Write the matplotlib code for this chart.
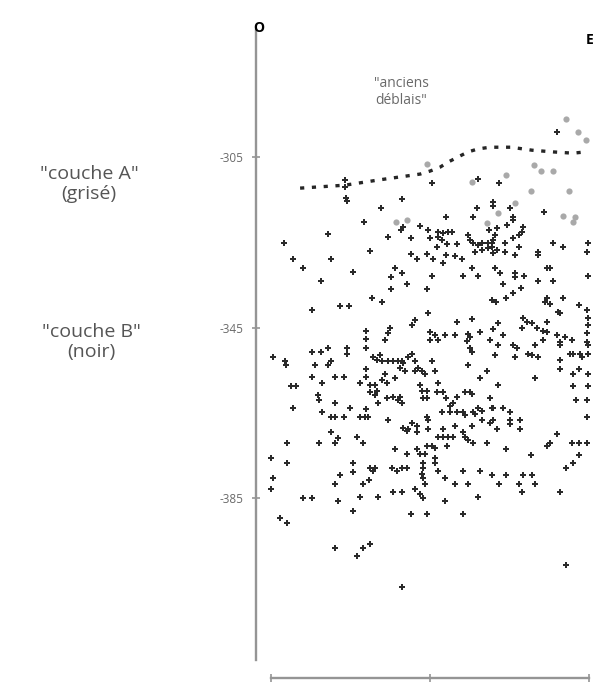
import numpy as np
from matplotlib import pyplot as plt

plt.rcParams['font.family'] = ['Open Sans', 'DejaVu Sans']
plt.rcParams['lines.scale_dashes'] = False

# x : distance along the section (cm), y : depth (cm)
couche_b = [
    (24.7, -310.4), (24.7, -312.1), (25, -314.6), (25.3, -315.3), (31, -320.3), (19, -323.1),
    (4.3, -325.2), (33, -327.1), (7.3, -329.0), (20, -329.0), (10.7, -331.1), (27.3, -332.0),
    (16.7, -334.1), (33.7, -338.1), (13.7, -341.0), (23, -340.0), (26, -340.0), (31.7, -345.9),
    (31.7, -347.8),
    (53.7, -311.1), (69, -310.2), (43.7, -314.9), (36.7, -317.0), (68.7, -317.0), (74, -315.6),
    (44, -321.5), (43.3, -322.2), (58.3, -319.1), (67.3, -319.1), (72.7, -322.2), (49.7, -321.2),
    (52.3, -322.2), (55.7, -322.6), (57.3, -322.9), (59, -322.6), (60.3, -322.6), (55.7, -323.8),
    (39, -323.8), (46.7, -324.0), (53, -324.0), (57, -324.5), (58.7, -325.4), (62, -325.4),
    (55.3, -326.2), (65.7, -323.3), (66.3, -324.5), (67.3, -325.2), (69, -325.7), (70.3, -325.2),
    (72.3, -325.2), (73.7, -325.2), (68, -327.3), (70.3, -326.9), (72.3, -326.4), (46.7, -327.8),
    (48.7, -329.0), (52, -327.8), (54, -329.0), (58.3, -328.0), (61.3, -328.3), (63.7, -329.0),
    (57.3, -329.9), (41.3, -331.1), (43.7, -332.3), (40, -333.2), (45.3, -334.8), (53.7, -333.0),
    (64, -333.0), (67, -331.1), (69, -333.0), (52, -336.0), (40, -336.0), (37, -339.1),
    (52.3, -341.7), (48, -343.3), (47, -344.5), (62, -343.8), (67, -343.1), (39.7, -345.2),
    (39, -346.4), (73.7, -338.6),
    (95.3, -299.1), (76, -311.1), (74, -316.5), (79.7, -317.0), (91, -317.9), (80.7, -319.1),
    (80.7, -319.8), (78.7, -321.0), (75.3, -321.7), (84, -321.5), (83.7, -322.6), (82.7, -323.3),
    (74.7, -323.3), (74, -324.5), (73.7, -326.2), (80.7, -324.0), (78, -325.2), (82.7, -326.2),
    (78, -327.3), (81.3, -328.0), (75.3, -326.9), (74, -327.6), (94, -325.2), (97.3, -326.2),
    (105.7, -325.2), (105.3, -327.3), (89, -327.3), (89, -328.0), (92, -331.1), (93, -331.1),
    (74.7, -331.1), (76.3, -332.3), (81.3, -332.3), (81.3, -333.2), (84.3, -333.0), (89, -334.1),
    (94, -334.1), (105.7, -333.0), (77.3, -334.8), (83.3, -335.8), (80.7, -337.0), (78.3, -338.1),
    (75, -339.1), (92, -338.1), (91.3, -339.1), (93, -339.5), (97.3, -338.1), (95.7, -341.4),
    (96.3, -341.7), (102.7, -339.8), (105.3, -341.0), (105.7, -342.8), (105.7, -344.5), (84, -342.8),
    (85.3, -343.8), (87, -344.0), (88.7, -345.2), (90.7, -345.7), (92, -346.1), (75.7, -344.0),
    (77.3, -346.8), (95.3, -346.8), (98, -347.3), (105.3, -346.4), (83.7, -345.0), (74, -345.4),
    (92, -343.8),
    (31.7, -349.9), (34, -352.0), (35.3, -352.7), (0.7, -351.8), (4.7, -352.9), (5, -353.9),
    (13.7, -350.8), (16.7, -350.8), (19, -349.7), (25.3, -349.9), (25.3, -351.1), (20, -352.9),
    (19, -353.9), (14.7, -353.9), (6.7, -358.8), (8.3, -358.8), (13.7, -356.7), (17, -357.9),
    (21.3, -356.7), (24.3, -356.7), (29.7, -357.9), (31.7, -356.7), (31.7, -354.8), (33, -358.6),
    (34.7, -358.6), (33, -360.2), (34.7, -360.9), (35.7, -362.6), (15.7, -360.9), (16, -361.9),
    (7.3, -363.8), (21.3, -362.8), (26.3, -363.8), (17, -364.9), (20, -366.1), (21.3, -366.1),
    (24.3, -366.1), (29.7, -366.1), (31.3, -365.9), (32.3, -366.1), (31.7, -364.0), (20, -369.6),
    (22.3, -371.0), (21.3, -372.0), (28.7, -370.8), (30.7, -372.0), (5.3, -372.0), (16, -372.0),
    (0, -375.5), (5.3, -376.9), (27.3, -376.9), (27.3, -378.8), (33, -377.9), (34.7, -377.9),
    (34, -378.6), (23, -379.7), (0.7, -380.4), (0, -382.8), (21.3, -381.6), (30.7, -381.6),
    (32.7, -380.7), (10.7, -384.9), (13.7, -384.9), (22.3, -385.8), (29.7, -384.7), (35.7, -384.7),
    (27.3, -388.0), (3, -389.8), (5.3, -390.8), (21.3, -396.7), (28.7, -398.5), (30.7, -396.7),
    (33, -395.7),
    (38, -348.0), (53, -346.1), (54.7, -346.8), (58, -346.8), (61.3, -346.8), (65.7, -346.6),
    (66.3, -347.3), (69.7, -346.1), (73, -348.0), (65.3, -348.2), (66.3, -349.9), (67, -350.8),
    (55.7, -348.0), (53, -348.0), (36.3, -351.5), (37, -352.9), (39, -352.9), (40.7, -352.9),
    (42.3, -352.9), (43.7, -352.9), (44, -353.4), (43, -354.6), (44.7, -355.1), (45.7, -352.0),
    (47, -351.1), (48, -352.9), (53.7, -352.9), (48, -355.3), (49, -354.6), (50.3, -355.1),
    (51.3, -355.8), (54.7, -355.1), (65.7, -353.9), (72, -355.1), (69.7, -356.9), (41.3, -356.9),
    (38, -355.8), (37, -357.4), (38.7, -358.1), (35.3, -359.8), (55.7, -357.9), (49.7, -358.6),
    (50.3, -359.8), (52, -359.8), (55.3, -360.2), (57.3, -360.2), (64.7, -360.2), (66.3, -360.2),
    (67, -360.5), (62, -361.2), (38.7, -361.6), (40.7, -361.2), (43, -361.2), (42.3, -362.1),
    (50.7, -361.6), (52, -361.6), (58.3, -361.6), (60.7, -362.8), (59.7, -363.5), (43.7, -362.8),
    (73, -361.6), (69, -363.8), (70.3, -364.5), (57, -364.9), (62, -364.9), (64, -364.9),
    (64.7, -365.6), (67.3, -364.9), (68, -365.2), (59.7, -364.9), (73.7, -363.8), (52, -365.9),
    (52.3, -366.8), (70.3, -366.6), (39, -366.8), (61.3, -368.0), (47, -367.5), (48.7, -368.0),
    (45.7, -368.7), (45.3, -369.2), (48.7, -369.6), (44, -368.5), (52.3, -368.7), (57.3, -368.7),
    (67, -368.0), (73, -367.5), (55.7, -370.8), (57.3, -370.8), (59, -370.8), (60.7, -370.8),
    (64, -369.6), (64.7, -370.8), (65.7, -371.5), (67.3, -372.0), (72, -372.0), (58.7, -372.9),
    (52, -372.7), (53.7, -372.7), (54.7, -373.2), (41.3, -373.4), (48.7, -373.4), (49.7, -374.6),
    (51.3, -374.6), (45.3, -374.6), (54.7, -375.5), (50.7, -376.7), (54.7, -376.9), (40.3, -377.9),
    (42, -378.6), (43.7, -377.9), (45.3, -377.9), (55.7, -378.6), (50.7, -377.9), (64, -378.6),
    (69.7, -378.6), (73.7, -379.7), (50.3, -379.3), (50.7, -380.4), (51.3, -381.6), (58, -380.4),
    (61.3, -381.6), (65.7, -381.6), (48, -382.8), (49.7, -384.0), (50.7, -384.9), (40.7, -383.7),
    (43.7, -383.7), (58, -385.8), (69, -384.7), (46.7, -388.7), (52, -388.7), (64, -388.7),
    (43.7, -405.8),
    (75.7, -349.2), (80.7, -349.2), (82, -349.7), (88, -349.2), (90.7, -348.0), (96.3, -348.5),
    (96.3, -349.2), (100.3, -348.0), (105.3, -348.5), (105.7, -349.2), (99.7, -351.1), (100.7, -351.1),
    (103, -351.3), (103.7, -352.0), (105.7, -351.1), (74.7, -351.5), (81.3, -351.8), (85.7, -351.1),
    (87, -351.5), (89, -351.8), (96.3, -352.7), (96.3, -354.8), (100.7, -355.8), (102.7, -354.8),
    (105.7, -355.8), (88, -356.9), (75.7, -358.6), (100.7, -358.8), (105.7, -358.8), (101.7, -361.9),
    (105.3, -361.9), (74, -363.8), (77.3, -363.8), (79.7, -364.9), (74, -366.8), (79.7, -366.8),
    (79.7, -367.7), (83, -366.8), (75.3, -368.7), (83, -368.7), (105.3, -366.1), (95.3, -369.9),
    (93, -372.0), (92, -372.7), (100.3, -372.0), (102.7, -372.0), (105.3, -372.0), (78.3, -373.6),
    (86.7, -374.8), (102.7, -374.8), (100.7, -376.9), (98.3, -377.9), (78.3, -379.7), (84, -379.7),
    (87, -379.7), (76, -381.6), (82.7, -381.6), (88, -381.6), (83.7, -383.7), (96.3, -383.7),
    (98.3, -400.6),
]

couche_a = [
    (98.3, -296.1), (102.3, -299.1), (105, -301.0), (87.7, -306.9), (90, -308.3), (94, -308.3),
    (78.3, -309.2), (86.7, -313.0), (99.3, -313.0), (81.3, -315.8), (75.7, -318.2), (97.3, -318.9),
    (101.3, -319.1), (100.7, -320.3), (52, -306.6), (67, -310.9), (41.7, -320.3), (45.3, -319.8),
    (72, -320.5),
]

# limite des anciens deblais
limite_x = [9.7, 24.7, 35.7, 42.7, 49.7, 53, 56.3, 59, 62.3, 65.7, 69, 73, 80, 87, 94, 100.7, 104.7]
limite_y = [-312.3, -311.6, -310.4, -309.7, -309.0, -308.3, -307.4, -306.2, -305.0, -303.8,
            -303.1, -302.7, -302.7, -303.4, -303.8, -304.1, -303.8]

y_ticks = [-305, -345, -385]
x_ticks = [0, 53, 106]

fig = plt.figure(figsize=(6.11, 6.91), dpi=100)
ax = fig.add_axes([262 / 611, 31 / 691, 336 / 611, 630 / 691])

b = np.array(couche_b)
a = np.array(couche_a)
ax.scatter(a[:, 0], a[:, 1], marker='o', s=20, color='#a9a9a9', linewidths=0, zorder=2)
ax.scatter(b[:, 0], b[:, 1], marker='P', s=14, color='#2a2a2a', linewidths=0, zorder=3)
ax.plot(limite_x, limite_y, color='#262626', lw=2.4, dashes=(3, 5.5), zorder=3)

ax.set_xlim(-3, 109)
ax.set_ylim(-423, -275.2)

for s in ['top', 'right']:
    ax.spines[s].set_visible(False)
ax.spines['left'].set_position(('outward', 4.5))
ax.spines['bottom'].set_position(('outward', 13))
ax.spines['bottom'].set_bounds(0, 106)
for s in ['left', 'bottom']:
    ax.spines[s].set_color('#959595')
    ax.spines[s].set_linewidth(1.7)

ax.set_yticks(y_ticks)
ax.set_yticklabels([str(v) for v in y_ticks])
ax.set_xticks(x_ticks)
ax.set_xticklabels([])
ax.tick_params(axis='both', direction='inout', length=6, width=1.2, colors='#959595',
               labelsize=8.5, labelcolor='#6a6a6a', pad=6)

# textes
fig.text(259 / 611, 1 - 28 / 691, 'O', ha='center', va='center', fontsize=10, fontweight='bold')
fig.text(590 / 611, 1 - 40 / 691, 'E', ha='center', va='center', fontsize=10, fontweight='bold')
fig.text(401 / 611, 1 - 92 / 691, '"anciens\ndéblais"', ha='center', va='center',
         fontsize=10, color='#6a6a6a', linespacing=1.25)
fig.text(89 / 611, 1 - 184 / 691, '"couche A"\n(grisé)', ha='center', va='center',
         fontsize=14, color='#555555', linespacing=1.2)
fig.text(91 / 611, 1 - 342 / 691, '"couche B"\n(noir)', ha='center', va='center',
         fontsize=14, color='#555555', linespacing=1.2)

fig.savefig('out.png', dpi=100)
